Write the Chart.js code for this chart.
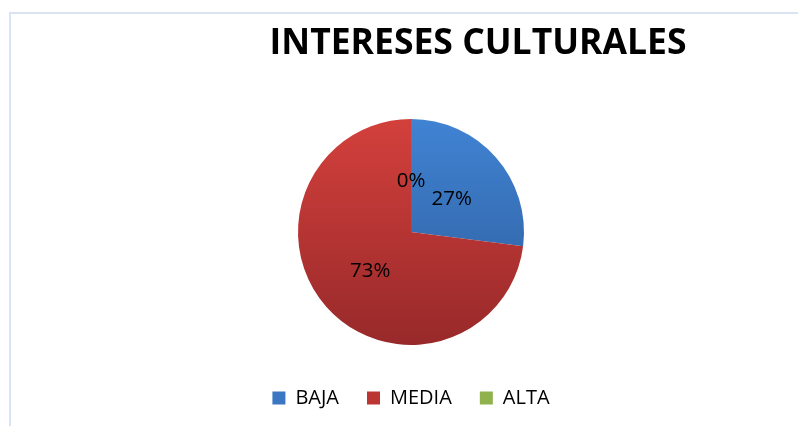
<!DOCTYPE html>
<html>
<head>
<meta charset="utf-8">
<script src="https://cdn.jsdelivr.net/npm/chart.js@4/dist/chart.umd.min.js"></script>
<style>
  html, body { margin: 0; padding: 0; background: #fff; }
  #wrap { position: relative; width: 798px; height: 426px; overflow: hidden; }
  #frame {
    position: absolute; left: 9px; top: 12px; width: 800px; height: 500px;
    border-left: 2px solid #dae3f3; border-top: 2px solid #dae3f3;
  }
  canvas { position: absolute; left: 0; top: 0; }
</style>
</head>
<body>
<div id="wrap">
  <div id="frame"></div>
  <canvas id="chart" width="798" height="426"></canvas>
</div>
<script>
const chartTitle = 'INTERESES CULTURALES';
const categories = ['BAJA', 'MEDIA', 'ALTA'];
const percentages = [27, 73, 0];
const percentLabels = ['27%', '73%', '0%'];

const pieRadius = 113;

// top/bottom colour pairs for the vertical gradient of each slice
const topColors = ['#4083d3', '#d3403c', '#9fc35a'];
const bottomColors = ['#2d5b99', '#98292a', '#76933c'];
const legendColors = ['#3a76c2', '#bb3633', '#8fb24c'];

function sliceFill(context) {
    const chart = context.chart;
    const i = context.dataIndex;
    const area = chart.chartArea;
    if (!area) return legendColors[i];
    const cy = (area.top + area.bottom) / 2;
    const g = chart.ctx.createLinearGradient(0, cy - pieRadius, 0, cy + pieRadius);
    g.addColorStop(0, topColors[i]);
    g.addColorStop(1, bottomColors[i]);
    return g;
}

// labels inside the slices, halfway out along the middle angle
const sliceLabels = {
    id: 'sliceLabels',
    afterDatasetsDraw(chart) {
        const ctx = chart.ctx;
        const meta = chart.getDatasetMeta(0);
        ctx.save();
        ctx.font = '20.5px "Open Sans", sans-serif';
        ctx.fillStyle = '#000';
        ctx.textAlign = 'center';
        ctx.textBaseline = 'middle';
        meta.data.forEach((arc, i) => {
            const mid = (arc.startAngle + arc.endAngle) / 2;
            const d = arc.outerRadius * 0.48;
            ctx.fillText(percentLabels[i], arc.x + Math.cos(mid) * d, arc.y + Math.sin(mid) * d + 3);
        });
        ctx.restore();
    }
};

// title drawn right of the pie centre, like the original sheet
const offsetTitle = {
    id: 'offsetTitle',
    afterDraw(chart) {
        const ctx = chart.ctx;
        const arc = chart.getDatasetMeta(0).data[0];
        ctx.save();
        ctx.font = 'bold 35.5px "Open Sans", sans-serif';
        ctx.fillStyle = '#000';
        ctx.textAlign = 'center';
        ctx.textBaseline = 'middle';
        ctx.fillText(chartTitle, arc.x + 67, 44);
        ctx.restore();
    }
};

new Chart(document.getElementById('chart'), {
    type: 'pie',
    data: {
        labels: categories,
        datasets: [{
            data: percentages,
            backgroundColor: sliceFill,
            borderWidth: 0,
            radius: pieRadius
        }]
    },
    options: {
        responsive: false,
        animation: false,
        layout: { padding: { top: 104, left: 24, right: 0, bottom: 8 } },
        plugins: {
            title: { display: false },
            tooltip: { enabled: false },
            legend: {
                position: 'bottom',
                labels: {
                    boxWidth: 13,
                    boxHeight: 13,
                    padding: 28,
                    color: '#2b4a7c',
                    font: { family: '"Open Sans", sans-serif', size: 20 },
                    generateLabels(chart) {
                        return categories.map((c, i) => ({
                            text: c,
                            fillStyle: legendColors[i],
                            strokeStyle: legendColors[i],
                            lineWidth: 0,
                            hidden: false,
                            index: i
                        }));
                    }
                }
            }
        }
    },
    plugins: [sliceLabels, offsetTitle]
});
</script>
</body>
</html>
